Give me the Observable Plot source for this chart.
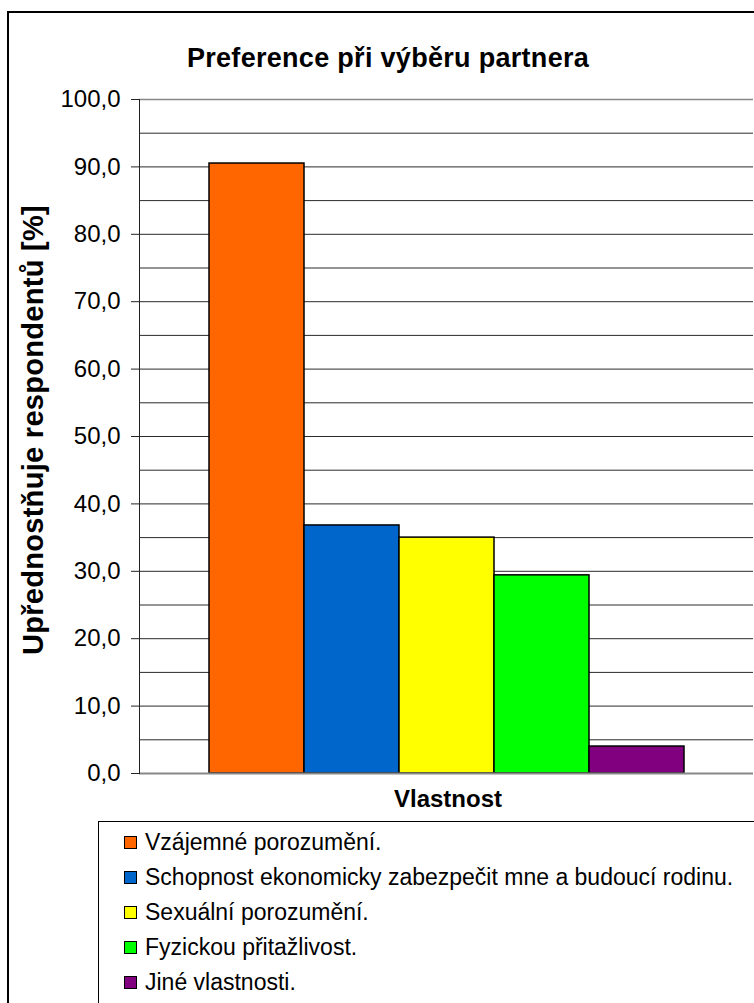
<!DOCTYPE html>
<html>
<head>
<meta charset="utf-8">
<script src="https://cdn.jsdelivr.net/npm/d3@7"></script>
<script src="https://cdn.jsdelivr.net/npm/@observablehq/plot@0.6"></script>
<style>
  body { margin: 0; background: #fff; font-family: "Liberation Sans", Arial, sans-serif; }
  #wrap { position: relative; width: 754px; height: 1003px; overflow: hidden; background: #fff; }
  #border { position: absolute; left: 7px; top: 11px; width: 900px; height: 1100px; border: 2px solid #000; }
  #title { position: absolute; left: 0; width: 776px; top: 43px; text-align: center; font-weight: bold; font-size: 27px; letter-spacing: 0.3px; }
  #ylabel { position: absolute; left: 33px; top: 430px; transform: translate(-50%, -50%) rotate(-90deg); white-space: nowrap; font-weight: bold; font-size: 29px; letter-spacing: 0.3px; }
  #xlabel { position: absolute; left: 0; width: 896px; top: 785px; text-align: center; font-weight: bold; font-size: 24px; }
  #chart { position: absolute; left: 0; top: 0; }
  #legend { position: absolute; left: 98px; top: 821px; width: 800px; height: 300px; border: 1px solid #000; }
  .item { position: absolute; left: 25px; height: 30px; display: flex; align-items: center; font-size: 23px; white-space: nowrap; }
  .sw { width: 11px; height: 11px; border: 1px solid #000; margin-right: 8px; }
</style>
</head>
<body>
<div id="wrap">
  <div id="border"></div>
  <div id="title"></div>
  <div id="chart"></div>
  <div id="ylabel"></div>
  <div id="xlabel"></div>
  <div id="legend"></div>
</div>
<script>
const titleText = "Preference při výběru partnera";
const yLabelText = "Upřednostňuje respondentů [%]";
const xLabelText = "Vlastnost";
const categories = [
  "Vzájemné porozumění.",
  "Schopnost ekonomicky zabezpečit mne a budoucí rodinu.",
  "Sexuální porozumění.",
  "Fyzickou přitažlivost.",
  "Jiné vlastnosti."
];
const values = [90.5, 36.8, 35.0, 29.4, 4.0];
const colors = ["#FF6600", "#0066CC", "#FFFF00", "#00FF00", "#800080"];
const yTicks = [0, 10, 20, 30, 40, 50, 60, 70, 80, 90, 100];
const gridLines = [5, 10, 15, 20, 25, 30, 35, 40, 45, 50, 55, 60, 65, 70, 75, 80, 85, 90, 95];

document.getElementById("title").textContent = titleText;
document.getElementById("ylabel").textContent = yLabelText;
document.getElementById("xlabel").textContent = xLabelText;

const data = categories.map((c, i) => ({category: c, value: values[i]}));

const chart = Plot.plot({
  width: 754,
  height: 790,
  marginTop: 99,
  marginBottom: 17,
  marginLeft: 139,
  marginRight: 1,
  style: {fontFamily: "'Liberation Sans', Arial, sans-serif", fontSize: "24px", background: "transparent"},
  x: {domain: categories, paddingInner: 0, paddingOuter: 0.72, axis: null},
  y: {domain: [0, 100], axis: null},
  color: {domain: categories, range: colors},
  marks: [
    Plot.ruleY(gridLines, {stroke: "#2a2a2a", strokeWidth: 1}),
    Plot.ruleY([100], {stroke: "#888", strokeWidth: 1.5}),
    Plot.barY(data, {x: "category", y: "value", fill: "category", stroke: "#000", strokeWidth: 1.5}),
    Plot.ruleY([0], {stroke: "#888", strokeWidth: 2}),
    Plot.frame({anchor: "left", stroke: "#222", strokeWidth: 1}),
    Plot.axisY(yTicks, {tickSize: 8, tickPadding: 11, tickFormat: d => d.toFixed(1).replace(".", ","), label: null, fontSize: 24, stroke: "#222"})
  ]
});
document.getElementById("chart").appendChild(chart);

const legend = document.getElementById("legend");
categories.forEach((c, i) => {
  const item = document.createElement("div");
  item.className = "item";
  item.style.top = (5 + i * 35) + "px";
  const sw = document.createElement("div");
  sw.className = "sw";
  sw.style.background = colors[i];
  const t = document.createElement("span");
  t.textContent = c;
  item.appendChild(sw);
  item.appendChild(t);
  legend.appendChild(item);
});
</script>
</body>
</html>
